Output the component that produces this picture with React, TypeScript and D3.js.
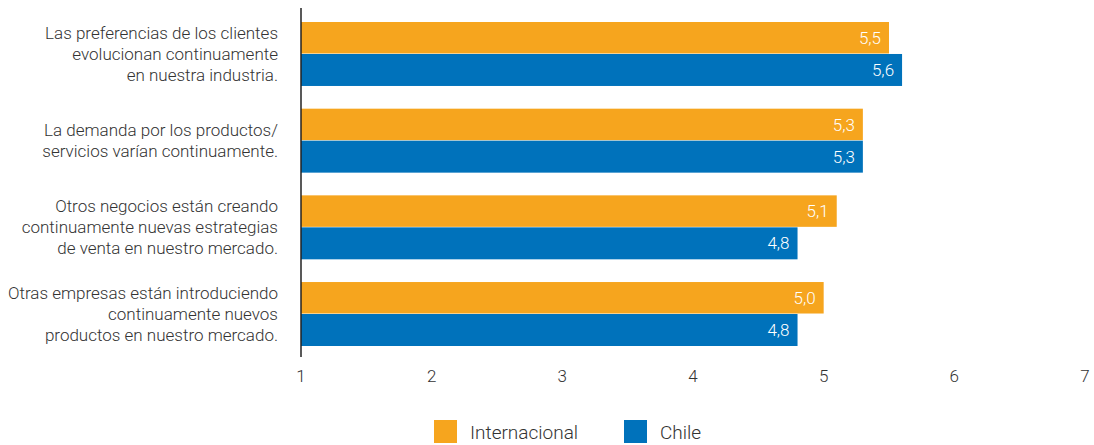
import React from "react";
import * as d3 from "d3";

const categories: string[][] = [
  ["Las preferencias de los clientes", "evolucionan continuamente", "en nuestra industria."],
  ["La demanda por los productos/", "servicios varían continuamente."],
  ["Otros negocios están creando", "continuamente nuevas estrategias", "de venta en nuestro mercado."],
  ["Otras empresas están introduciendo", "continuamente nuevos", "productos en nuestro mercado."],
];
const internacional = [5.5, 5.3, 5.1, 5.0];
const chile = [5.6, 5.3, 4.8, 4.8];
const ticks = [1, 2, 3, 4, 5, 6, 7];
const seriesNames = ["Internacional", "Chile"];
const colors = ["#F6A51E", "#0072BB"];

const W = 1094;
const H = 445;
const FONT = "Roboto, 'Open Sans', sans-serif";

export default function App() {
  const x = d3.scaleLinear().domain([1, 7]).range([301, 1085]);
  const y = d3
    .scaleBand<number>()
    .domain(categories.map((_, i) => i))
    .range([22, 346])
    .paddingInner(0.262)
    .paddingOuter(0);
  const inner = d3.scaleBand<number>().domain([0, 1]).range([0, y.bandwidth()]).padding(0);
  const fmt = (v: number) => v.toFixed(1).replace(".", ",");
  const series = [internacional, chile];
  const lineH = 21;

  return (
    <svg width={W} height={H} style={{ position: "absolute", left: 0, top: 0, fontFamily: FONT }}>
      {categories.map((lines, i) => {
        const cy = (y(i) as number) + y.bandwidth() / 2;
        return (
          <g key={i}>
            {series.map((s, k) => {
              const by = (y(i) as number) + (inner(k) as number);
              const bh = inner.bandwidth();
              return (
                <g key={k}>
                  <rect x={x(1)} y={by} width={x(s[i]) - x(1)} height={k === 0 ? bh - 0.5 : bh} fill={colors[k]} />
                  <text
                    x={x(s[i]) - 8}
                    y={by + bh / 2}
                    dy="0.35em"
                    textAnchor="end"
                    fill="#fff"
                    fontSize={17}
                    fontWeight={300}
                  >
                    {fmt(s[i])}
                  </text>
                </g>
              );
            })}
            {lines.map((ln, j) => (
              <text
                key={j}
                x={278}
                y={cy + (j - (lines.length - 1) / 2) * lineH}
                dy="0.35em"
                textAnchor="end"
                fill="#333"
                fontSize={17}
                fontWeight={300}
              >
                {ln}
              </text>
            ))}
          </g>
        );
      })}
      <line x1={x(1)} x2={x(1)} y1={8} y2={357} stroke="#222" strokeWidth={1.5} />
      {ticks.map((t) => (
        <text key={t} x={x(t)} y={376} dy="0.35em" textAnchor="middle" fill="#333" fontSize={17} fontWeight={300}>
          {t}
        </text>
      ))}
      {seriesNames.map((n, k) => {
        const lx = k === 0 ? 434 : 624;
        return (
          <g key={n}>
            <rect x={lx} y={420} width={23} height={23} fill={colors[k]} />
            <text x={lx + 36} y={432} dy="0.35em" fill="#333" fontSize={19} fontWeight={300}>
              {n}
            </text>
          </g>
        );
      })}
    </svg>
  );
}
